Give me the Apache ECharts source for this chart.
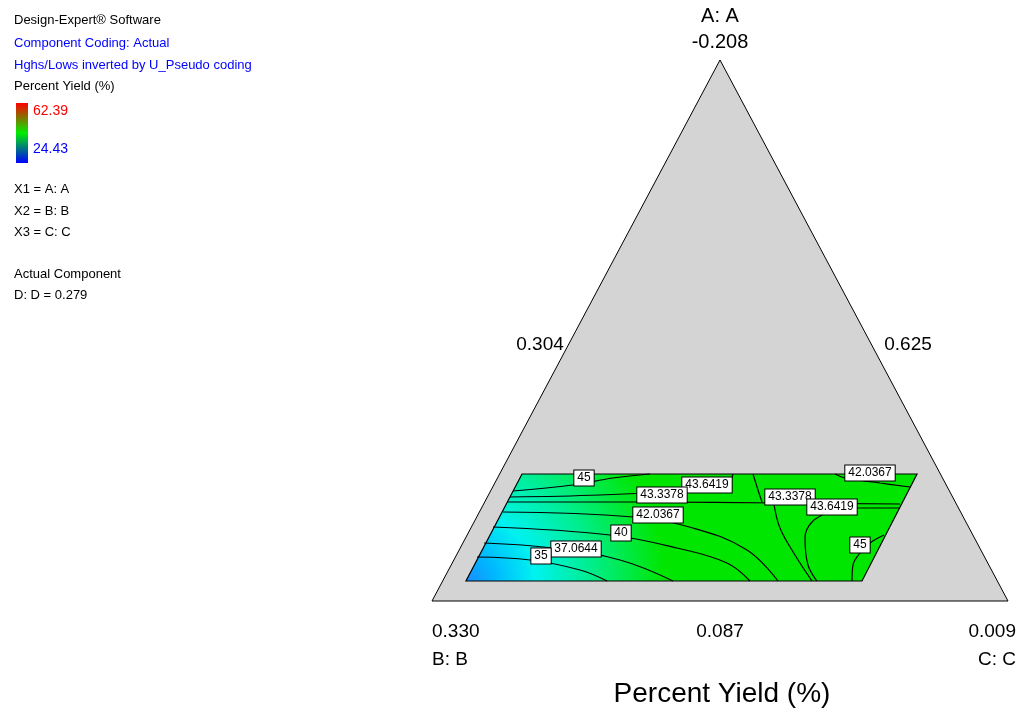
<!DOCTYPE html>
<html><head><meta charset="utf-8">
<script src="https://cdn.jsdelivr.net/npm/echarts@6/dist/echarts.min.js"></script>
<style>html,body{margin:0;padding:0;background:#fff}#c{width:1024px;height:722px}</style>
</head><body><div id="c"></div>
<script>
// plane coordinates of the ternary layout (x right, y down)
const triangle = [[720,60],[432,601],[1008,601]];
const region = [[522,474],[917,474],[862,581],[466,581]];
const contours = [
  {name:'45a', pts:[[513,491],[573,485],[613,478],[650,474]]},
  {name:'43.6419a', pts:[[510,497],[600,495],[680,491],[725,487],[733,474]]},
  {name:'43.3378h', pts:[[508,502],[650,502],[780,503],[900,504]]},
  {name:'43.3378t', pts:[[753,474],[758,490],[762,502]]},
  {name:'43.3378d', pts:[[774,504],[780,528],[795,555],[812,581]]},
  {name:'43.6419b', pts:[[900,508],[855,508],[830,512],[812,522],[805,538],[808,565],[817,581]]},
  {name:'42.0367a', pts:[[835,474],[845,478],[880,483],[910,487]]},
  {name:'45b', pts:[[884,535],[870,543],[860,553],[853,565],[852,581]]},
  {name:'42.0367b', pts:[[503,512],[633,517],[693,528],[747,550],[778,581]]},
  {name:'40', pts:[[493,527],[610,535],[677,548],[727,563],[750,581]]},
  {name:'37.0644', pts:[[484,543],[553,548],[620,560],[673,581]]},
  {name:'35', pts:[[477,557],[530,560],[580,570],[607,581]]}
];
const contourLabels = [
  ['45',584,478],['43.6419',707,485],['43.3378',662,495],['43.3378',790,497],
  ['42.0367',870,473],['43.6419',832,507],['42.0367',658,515],['40',621,533],
  ['37.0644',576,549],['35',541,556],['45',860,545]
];
const infoLines = [
  ['Design-Expert® Software','#000',22],['Component Coding: Actual','#0000ff',45],
  ['Hghs/Lows inverted by U_Pseudo coding','#0000ff',67],['Percent Yield (%)','#000',88],
  ['X1 = A: A','#000',191],['X2 = B: B','#000',213],['X3 = C: C','#000',234],
  ['Actual Component','#000',276],['D: D = 0.279','#000',297]
];
const axisTexts = [
  ['A: A',720,16,20,'center'],['-0.208',720,42,20,'center'],
  ['0.304',540,345,19,'center'],['0.625',908,345,19,'center'],
  ['0.330',432,632,19,'left'],['B: B',432,660,19,'left'],
  ['0.087',720,632,19,'center'],['0.009',1016,632,19,'right'],['C: C',1016,660,19,'right'],
  ['Percent Yield (%)',722,694,28,'center']
];
const FONT = 'Liberation Sans, Arial, sans-serif';
function polySeries(pts, style){
  return {type:'custom', coordinateSystem:'cartesian2d', data:pts, silent:true,
    renderItem:function(params, api){
      if(params.dataIndex!==0) return null;
      const p = pts.map(d=>api.coord(d));
      return {type:'polygon', shape:{points:p}, style:style};
    }};
}
const series = [
  polySeries(triangle, {fill:'#d4d4d4', stroke:'#000', lineWidth:1}),
  polySeries(region, {fill:{type:'radial', x:0, y:1, r:2.3, colorStops:[
    {offset:0,color:'#1a8cff'},{offset:0.12,color:'#00b8ff'},{offset:0.28,color:'#00f2f0'},
    {offset:0.5,color:'#00ee90'},{offset:0.8,color:'#00e600'},{offset:1,color:'#00e600'}]}, stroke:'#000', lineWidth:1.2})
];
contours.forEach(c=>series.push({type:'line', data:c.pts, smooth:0.4, symbol:'none', silent:true,
  lineStyle:{color:'#000', width:1.2}, z:3}));
series.push({type:'custom', coordinateSystem:'cartesian2d', z:5, silent:true,
  data:contourLabels.map(l=>[l[1],l[2],l[0]]),
  renderItem:function(params, api){
    const p = api.coord([api.value(0), api.value(1)]);
    const txt = contourLabels[params.dataIndex][0];
    return {type:'text', x:p[0], y:p[1], style:{text:txt, fill:'#000', font:'12px '+FONT,
      align:'center', verticalAlign:'middle', backgroundColor:'#fff', borderColor:'#000', borderWidth:1, padding:[2,3,1,3]}};
  }});
const graphic = [];
infoLines.forEach(l=>graphic.push({type:'text', left:14, top:l[2]-8, style:{text:l[0], fill:l[1], font:'13px '+FONT}}));
graphic.push({type:'rect', shape:{x:16,y:103,width:12,height:60}, style:{fill:{type:'linear',x:0,y:0,x2:0,y2:1,
  colorStops:[{offset:0,color:'#ff0000'},{offset:0.5,color:'#00ee00'},{offset:1,color:'#0000ff'}]}}});
graphic.push({type:'text', left:33, top:104, style:{text:'62.39', fill:'#ff0000', font:'14px '+FONT}});
graphic.push({type:'text', left:33, top:142, style:{text:'24.43', fill:'#0000ff', font:'14px '+FONT}});
axisTexts.forEach(t=>graphic.push({type:'text', x:t[1], y:t[2], style:{text:t[0], fill:'#000', font:t[3]+'px '+FONT, align:t[4], verticalAlign:'middle'}}));
const chart = echarts.init(document.getElementById('c'));
chart.setOption({
  animation:false,
  grid:{left:0,right:0,top:0,bottom:0},
  xAxis:{type:'value', min:0, max:1024, show:false},
  yAxis:{type:'value', min:0, max:722, inverse:true, show:false},
  series:series, graphic:graphic
});
</script></body></html>
